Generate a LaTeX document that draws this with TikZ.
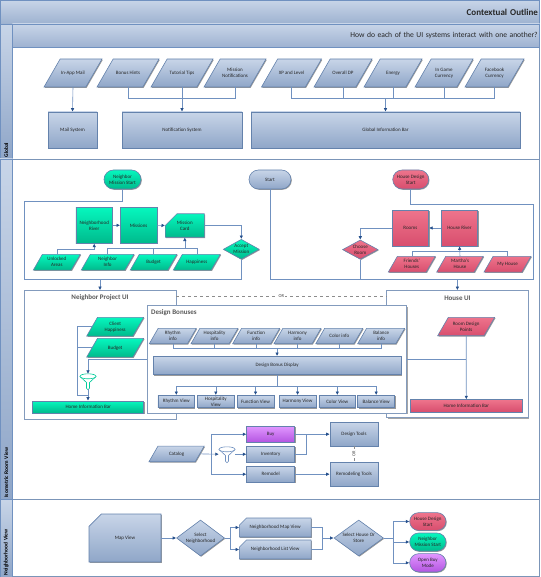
\documentclass[tikz,border=0pt]{standalone}
\usepackage{fontspec}
\setmainfont{Carlito}
\usepackage{xcolor}
\definecolor{lineblue}{RGB}{112,145,192}
\definecolor{tipblue}{RGB}{38,80,140}
\definecolor{edgeblue}{RGB}{100,130,172}
\definecolor{bluetop}{RGB}{200,213,232}
\definecolor{bluebot}{RGB}{143,166,200}
\definecolor{greentop}{RGB}{6,247,190}
\definecolor{greenbot}{RGB}{0,186,140}
\definecolor{redtop}{RGB}{238,116,140}
\definecolor{redbot}{RGB}{216,78,110}
\definecolor{purpletop}{RGB}{224,150,255}
\definecolor{purplebot}{RGB}{180,85,225}
\usetikzlibrary{
  arrows.meta,
  shapes.geometric,
  shapes.misc,
  calc,
  shadows
}

\makeatletter
\pgfdeclareshape{slantbox}{
  \inheritsavedanchors[from=rectangle]
  \inheritanchorborder[from=rectangle]
  \inheritanchor[from=rectangle]{center}
  \inheritanchor[from=rectangle]{north}
  \inheritanchor[from=rectangle]{south}
  \inheritanchor[from=rectangle]{text}
  \inheritanchor[from=rectangle]{base}
  \anchor{west}{\southwest \pgf@xa=\pgf@x \pgf@ya=\pgf@y \northeast
    \pgf@yb=\pgf@y \advance\pgf@yb by -\pgf@ya
    \pgf@x=\pgf@xa \advance\pgf@x by 0.2887\pgf@yb
    \pgf@y=\pgf@ya \advance\pgf@y by 0.5\pgf@yb}
  \anchor{east}{\southwest \pgf@ya=\pgf@y \northeast
    \pgf@yb=\pgf@y \advance\pgf@yb by -\pgf@ya
    \advance\pgf@x by -0.2887\pgf@yb
    \pgf@y=\pgf@ya \advance\pgf@y by 0.5\pgf@yb}
  \backgroundpath{
    \southwest \pgf@xa=\pgf@x \pgf@ya=\pgf@y
    \northeast \pgf@xb=\pgf@x \pgf@yb=\pgf@y
    \pgf@xc=\pgf@yb \advance\pgf@xc by -\pgf@ya
    \pgf@xc=0.577\pgf@xc
    \pgfpathmoveto{\pgfqpoint{\pgf@xa}{\pgf@ya}}
    \pgfpathlineto{\pgfqpoint{\dimexpr\pgf@xb-\pgf@xc}{\pgf@ya}}
    \pgfpathlineto{\pgfqpoint{\pgf@xb}{\pgf@yb}}
    \pgfpathlineto{\pgfqpoint{\dimexpr\pgf@xa+\pgf@xc}{\pgf@yb}}
    \pgfpathclose
  }
}
\makeatother

\begin{document}
\begin{tikzpicture}[
  x=1pt, y=-1pt,
  dim/.style 2 args={minimum width=#1, minimum height=#2},
  flow/.style={
    draw=edgeblue, inner sep=0pt, align=center, font=\fontsize{5}{6}\selectfont,
    text=black!85, line width=.6pt,
    drop shadow={shadow xshift=.8pt, shadow yshift=-.8pt, opacity=.4, fill=black}
  },
  bluefill/.style={top color=bluetop, bottom color=bluebot},
  greenfill/.style={top color=greentop, bottom color=greenbot},
  redfill/.style={top color=redtop, bottom color=redbot},
  purplefill/.style={top color=purpletop, bottom color=purplebot},
  boxnode/.style={flow, rectangle},
  paranode/.style={flow, shape=slantbox, outer sep=0pt},
  cutnode/.style={flow, chamfered rectangle, chamfered rectangle corners=north west,
    chamfered rectangle xsep=#1, chamfered rectangle ysep=#1},
  dianode/.style={flow, diamond, aspect=1.8},
  termnode/.style={flow, rounded rectangle},
  panel/.style={draw=edgeblue!80, fill=white, line width=.7pt, inner sep=0pt,
    drop shadow={shadow xshift=.8pt, shadow yshift=-.8pt, opacity=.35, fill=black}},
  paneltitle/.style={font=\fontsize{7}{8}\selectfont\bfseries, text=black!65, inner sep=0pt},
  band/.style={draw=lineblue, line width=.7pt, top color=bluetop, bottom color=bluebot!75!bluetop,
    align=right, inner sep=0pt, text=black!85},
  stripnode/.style={draw=lineblue, line width=.5pt, rotate=90, top color=bluetop, bottom color=bluebot,
    inner sep=0pt, align=left, font=\fontsize{5.5}{6}\selectfont\bfseries},
  sect/.style={draw=edgeblue!85, line width=.6pt},
  wire/.style={draw=lineblue, line width=.6pt},
  arr/.style={wire, -{Latex[length=3.5pt,width=3.5pt,color=tipblue]}},
  orline/.style={draw=black!45, dashed, line width=.6pt},
  orlabel/.style={fill=white, inner sep=.5pt, font=\fontsize{4.5}{5}\selectfont, text=black!75},
  funnelbox/.style={inner sep=0pt, dim={16}{15}},
]

\newcommand{\funnelat}[2]{
  \draw[#2, line width=.6pt, fill=white]
    ($(#1.north west)+(0,2.5)$) -- ($(#1.center)+(-1.5,1)$) -- ($(#1.south)+(-1.5,-1)$)
    arc[start angle=180, end angle=360, radius=1.5pt] -- ($(#1.center)+(1.5,1)$)
    -- ($(#1.north east)+(0,2.5)$);
  \draw[#2, line width=.6pt, fill=white] ($(#1.north)+(0,2.5)$) ellipse[x radius=8pt, y radius=2.5pt];
}

\useasboundingbox (0,0) rectangle (540,577);

% frame
\draw[sect] (12.5,47.5) rectangle (539.6,159);
\draw[sect] (12.5,159) rectangle (539.6,499);
\draw[sect] (12.5,499) rectangle (539.6,576.4);
\node[stripnode, dim={135}{12.5}, text width=132] (stripglobal) at (6.25,91.5) {Global};
\node[stripnode, dim={340}{12.5}, text width=337] (stripiso) at (6.25,329) {Isometric Room View};
\node[stripnode, dim={78}{12.5}, text width=75] (striphood) at (6.25,538) {Neighborhood View};
\node[band, dim={539.4}{24}, text width=536, font=\fontsize{9}{10}\selectfont\bfseries] (title) at (270,12) {Contextual Outline};
\node[band, dim={527.2}{23.5}, text width=523.5, font=\fontsize{7.6}{9}\selectfont] (question) at (276,35.75) {How do each of the UI systems interact with one another?};

% global
\node[paranode, bluefill, dim={58}{28}] (inapp)    at (73,73)    {In-App Mail};
\node[paranode, bluefill, dim={62}{28}] (hints)    at (128,73)   {Bonus Hints};
\node[paranode, bluefill, dim={62}{28}] (tips)     at (182,73)   {Tutorial Tips};
\node[paranode, bluefill, dim={62}{28}] (notes)    at (235,73)   {Mission\\Notifications};
\node[paranode, bluefill, dim={60}{28}] (xp)       at (291.5,73) {XP and Level};
\node[paranode, bluefill, dim={58}{28}] (overall)  at (343,73)   {Overall DP};
\node[paranode, bluefill, dim={58}{28}] (energy)   at (393,73)   {Energy};
\node[paranode, bluefill, dim={58}{28}] (gamecur)  at (444,73)   {In Game\\Currency};
\node[paranode, bluefill, dim={59}{28}] (fbcur)    at (494.5,73) {Facebook\\Currency};
\node[boxnode, bluefill, dim={49}{36}]  (mailsys)  at (72.5,130) {Mail System};
\node[boxnode, bluefill, dim={120}{36}] (notesys)  at (182,130)  {Notification System};
\node[boxnode, bluefill, dim={269}{36}] (gibar)    at (385.5,130) {Global Information Bar};
\coordinate (notebus) at (182,98.5);
\coordinate (gibus)   at (385.5,98.5);

\draw[arr]  (inapp.south) -- (mailsys.north);
\draw[wire] (hints.south) |- (notebus) -| (notes.south);
\draw[arr]  (tips.south) -- (notesys.north);
\draw[wire] (xp.south) |- (gibus) -| (fbcur.south);
\draw[wire] (overall.south) -- (overall.south |- gibus);
\draw[wire] (energy.south) -- (energy.south |- gibus);
\draw[wire] (gamecur.south) -- (gamecur.south |- gibus);
\draw[arr]  (gibus) -- (gibar.north);

% starts
\node[termnode, greenfill, dim={37}{19}] (nstart) at (122.5,179.5) {Neighbor\\Mission Start};
\node[termnode, bluefill, dim={42}{19}]  (start)  at (270,179.5)   {Start};
\node[termnode, redfill, dim={36}{19}]   (hstart) at (410.7,179.5) {House Design\\Start};

% neighbor side
\node[boxnode, greenfill, dim={36.5}{36}] (nriver)   at (94.2,225.3) {Neighborhood\\River};
\node[boxnode, greenfill, dim={36.5}{36}] (missions) at (138.6,225.3) {Missions};
\node[cutnode=7pt, greenfill, dim={39}{19}] (mcard)  at (184.8,225.5) {Mission\\Card};
\node[dianode, greenfill, dim={36}{20}]   (accept)   at (241.3,249.3) {Accept\\Mission};
\node[paranode, greenfill, dim={47}{15.7}] (unlocked) at (56.8,262.2) {Unlocked\\Areas};
\node[paranode, greenfill, dim={52.7}{15.7}] (ninfo)  at (107.6,262.2) {Neighbor\\Info};
\node[paranode, greenfill, dim={46.7}{15.7}] (nbudget) at (153.6,262.2) {Budget};
\node[paranode, greenfill, dim={47}{15.7}] (nhappy)  at (196.8,262.2) {Happiness};
\coordinate (nframetl) at (24,201.5);
\coordinate (nframebr) at (241.3,279.3);
\coordinate (nframeout) at (100,279.3);
\coordinate (cardbus)  at (184.8,248.3);
\coordinate (riverbus) at (94.2,249.3);

\draw[arr]  (nriver) -- (missions);
\draw[arr]  (missions) -- (mcard);
\draw[arr]  (mcard.east) -| (accept.north);
\draw[arr]  (unlocked.north) |- (riverbus) -- (nriver.south);
\draw[wire] (ninfo.north) |- (cardbus) -| (nhappy.north);
\draw[wire] (nbudget.north) -- (nbudget.north |- cardbus);
\draw[arr]  (cardbus) -- (mcard.south);

% house side
\node[boxnode, redfill, dim={36.7}{36}] (rooms)  at (410.4,228) {Rooms};
\node[boxnode, redfill, dim={36.4}{36}] (hriver) at (459.5,228) {House River};
\node[dianode, redfill, dim={35.5}{19.3}] (choose) at (360.3,249.6) {Choose\\Room};
\node[paranode, redfill, dim={47}{15.7}] (friends) at (411.8,264.2) {Friends'\\Houses};
\node[paranode, redfill, dim={46.6}{15.7}] (martha) at (460,264.2) {Martha's\\House};
\node[paranode, redfill, dim={47}{15.7}] (myhouse) at (507.5,264.2) {My House};
\coordinate (hframetr) at (533.3,204);
\coordinate (hframebr) at (533.3,279.3);
\coordinate (hframeout) at (457.4,279.3);
\coordinate (hriverbus) at (459.5,251.3);

\draw[arr]  (hriver) -- (rooms);
\draw[arr]  (rooms.west) -| (choose.north);
\draw[wire] (friends.north) |- (hriverbus) -| (myhouse.north);
\draw[arr]  (martha.north) -- (hriver.south);

% panels
\node[panel, dim={152}{129}] (nui) at (100,355) {};
\node[panel, dim={141.3}{127.2}] (hui) at (457.4,354.1) {};
\node[paneltitle] (nuititle) at (100,298) {Neighbor Project UI};
\node[paneltitle] (huititle) at (457.4,298) {House UI};
\coordinate (orleft)  at (176,296);
\coordinate (orright) at (386.8,296);
\draw[orline] (orleft) -- node[orlabel] (ortop) {OR} (orright);

\draw[wire] (nstart.south) |- (nframetl) |- (nframebr) -- (accept.south);
\draw[arr]  (nframeout) -- (nui.north);
\draw[wire] (hstart.south) |- (hframetr) -- (hframebr) -| (start.south);
\draw[wire] (choose.south) -- (choose.south |- hframebr);
\draw[arr]  (hframeout) -- (hui.north);

% neighbor ui
\node[paranode, greenfill, dim={57}{18.7}] (clienthappy) at (115.2,326.7) {Client\\Happiness};
\node[paranode, greenfill, dim={57}{18.7}] (uibudget)    at (115.2,347.7) {Budget};
\node[boxnode, greenfill, dim={111}{12}]   (nhome)       at (88.2,407)    {Home Information Bar};
\node[funnelbox] (nfunnel) at (88,381.5) {};
\coordinate (nbusbottom) at (77,395.3);

\draw[wire] (clienthappy.west) -| (nbusbottom) -- (nbusbottom -| nfunnel);
\draw[wire] (uibudget.west) -- (uibudget.west -| nbusbottom);
\funnelat{nfunnel}{greenbot!70!greentop}
\draw[arr]  (nfunnel.south) -- (nhome.north -| nfunnel);

% house ui
\node[paranode, redfill, dim={57}{18.4}] (rdpoints) at (466.2,326.5) {Room Design\\Points};
\node[boxnode, redfill, dim={112}{12.3}] (hhome)    at (466.3,405.8) {Home Information Bar};
\draw[arr]  (rdpoints.south) -- (hhome.north);

% design bonuses
\node[panel, dim={259.2}{107.6}] (bonuses) at (277.1,359.5) {};
\node[paneltitle, anchor=west] (bonustitle) at (151,313) {Design Bonuses};
\node[paranode, bluefill, dim={47}{15.4}] (rinfo) at (172.8,336) {Rhythm\\info};
\node[paranode, bluefill, dim={47}{15.4}] (pinfo) at (214.5,336) {Hospitality\\info};
\node[paranode, bluefill, dim={47}{15.4}] (finfo) at (256.2,336) {Function\\info};
\node[paranode, bluefill, dim={47}{15.4}] (minfo) at (297.5,336) {Harmony\\info};
\node[paranode, bluefill, dim={47}{15.4}] (cinfo) at (339.3,336) {Color info};
\node[paranode, bluefill, dim={47}{15.4}] (binfo) at (381.2,336) {Balance\\info};
\node[boxnode, bluefill, dim={247.7}{18.4}] (display) at (277.1,365.5) {Design Bonus Display};
\node[boxnode, bluefill, dim={36.7}{12.4}] (rview) at (176.3,401.5) {Rhythm View};
\node[boxnode, bluefill, dim={37}{12.4}]   (pview) at (215.8,401.5) {Hospitality\\View};
\node[boxnode, bluefill, dim={37}{12.4}]   (fview) at (255.5,401.5) {Function View};
\node[boxnode, bluefill, dim={36.7}{12.4}] (mview) at (297.6,401.5) {Harmony View};
\node[boxnode, bluefill, dim={36.7}{12.4}] (cview) at (337.3,401.5) {Color View};
\node[boxnode, bluefill, dim={37}{12.4}]   (bview) at (376.2,401.5) {Balance View};
\coordinate (infobus) at (277.1,348.7);
\coordinate (viewbus) at (277.1,386.3);
\coordinate (hjoin) at (466.2,359.7);

\draw[wire] (rinfo.south) |- (infobus) -| (binfo.south);
\foreach \nm in {pinfo,finfo,minfo,cinfo}
  \draw[wire] (\nm.south) -- (\nm.south |- infobus);
\draw[arr]  (infobus) -- (display.north);
\draw[wire] (display.south) -- (viewbus);
\foreach \nm in {rview,pview,fview,mview,cview,bview}
  \draw[arr] (viewbus) -| (\nm.north);
\draw[arr]  (bonuses.west |- hjoin) -| (nfunnel.north);
\draw[wire] (bonuses.east |- hjoin) -- (hjoin);

% catalog
\node[paranode, bluefill, dim={55.3}{15.7}] (catalog) at (176.6,453.9) {Catalog};
\node[funnelbox] (cfunnel) at (227,454.5) {};
\node[boxnode, purplefill, dim={48}{15.7}] (buy)    at (270.7,434.2) {Buy};
\node[boxnode, bluefill, dim={48}{15.7}] (inventory) at (270.7,454.2) {Inventory};
\node[boxnode, bluefill, dim={48}{15.7}] (remodel) at (270.7,474.2) {Remodel};
\node[boxnode, bluefill, dim={48}{24}] (dtools)  at (354,434)   {Design Tools};
\node[boxnode, bluefill, dim={48}{24}] (rtools)  at (354,474.3) {Remodeling Tools};
\coordinate (catsplit) at (211.7,454.2);
\coordinate (invjoin)  at (306.3,434.2);

\funnelat{cfunnel}{lineblue}
\draw[arr]  (catalog.east) -- (cfunnel.west |- catsplit);
\draw[arr]  (catsplit) |- (buy.west);
\draw[arr]  (catsplit) |- (remodel.west);
\draw[arr]  (cfunnel.east |- inventory.west) -- (inventory.west);
\draw[arr]  (buy.east) -- (dtools.west |- buy.east);
\draw[wire] (inventory.east) -| (invjoin);
\draw[arr]  (remodel.east) -- (rtools.west |- remodel.east);
\draw[orline] (dtools) -- node[orlabel, rotate=90] (ormid) {OR} (rtools);

% neighborhood view
\node[cutnode=11pt, bluefill, dim={72}{48}] (mapview) at (125,538) {Map View};
\node[dianode, bluefill, dim={47.6}{36}] (selhood) at (200.5,538) {Select\\Neighborhood};
\node[cutnode=5pt, bluefill, dim={71.7}{19}] (hmap)  at (275.2,527.5) {Neighborhood  Map View};
\node[cutnode=5pt, bluefill, dim={71.7}{19}] (hlist) at (275.2,549.5) {Neighborhood  List View};
\node[dianode, bluefill, dim={48}{36}] (selhouse) at (358.7,538) {Select House Or\\Store};
\node[termnode, redfill, dim={36.3}{17.7}]    (endhouse)    at (427.8,521.5) {House Design\\Start};
\node[termnode, greenfill, dim={36.3}{18}]    (endneighbor) at (427.8,542)   {Neighbor\\Mission Start};
\node[termnode, purplefill, dim={36.3}{18.3}] (endbuy)      at (427.8,562.8) {Open Buy\\Mode};
\coordinate (hoodsplit)  at (230.3,538);
\coordinate (hoodjoin)   at (322.3,538);
\coordinate (housesplit) at (393.7,538);

\draw[arr]  (mapview.east) -- (selhood.west);
\draw[wire] (selhood.east) -- (hoodsplit);
\draw[arr]  (hoodsplit) |- (hmap.west);
\draw[arr]  (hoodsplit) |- (hlist.west);
\draw[wire] (hmap.east) -| (hoodjoin);
\draw[wire] (hlist.east) -| (hoodjoin);
\draw[arr]  (hoodjoin) -- (selhouse.west);
\draw[wire] (selhouse.east) -- (housesplit);
\draw[arr]  (housesplit) |- (endhouse.west);
\draw[arr]  (housesplit) |- (endneighbor.west);
\draw[arr]  (housesplit) |- (endbuy.west);

\end{tikzpicture}
\end{document}
